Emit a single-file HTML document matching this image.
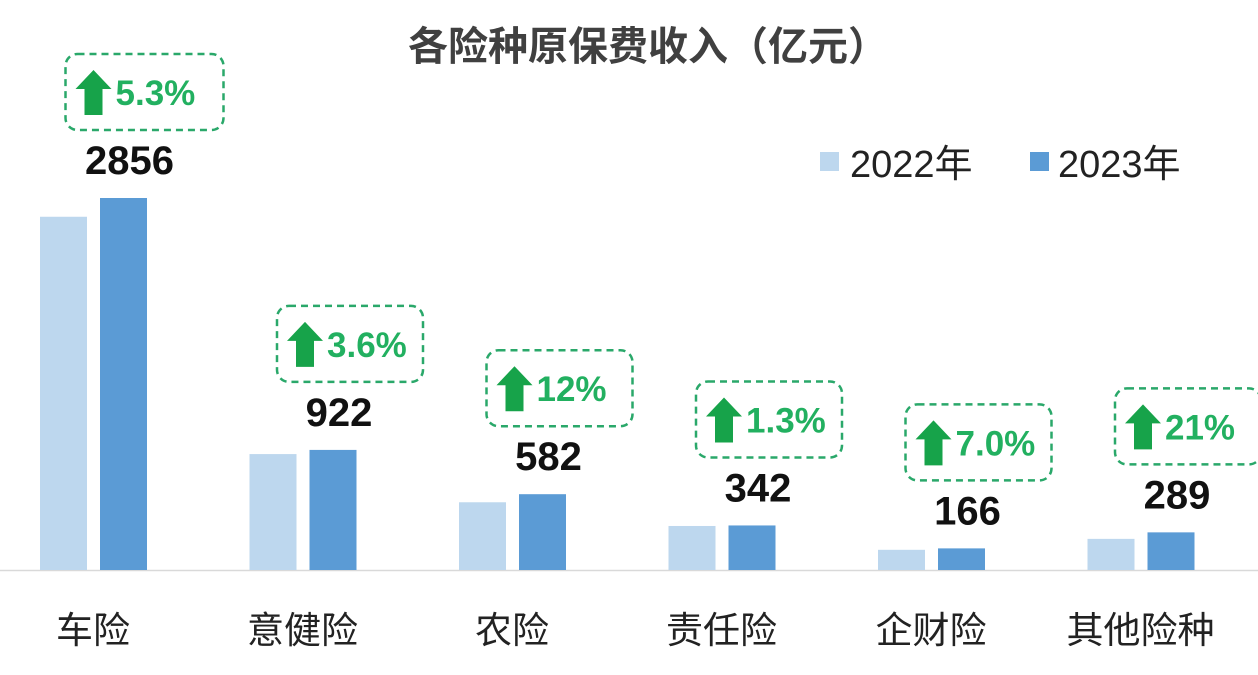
<!DOCTYPE html>
<html><head><meta charset="utf-8">
<style>
html,body{margin:0;padding:0;background:#fff;}
body{width:1258px;height:670px;overflow:hidden;font-family:"Liberation Sans","Noto Sans CJK SC",sans-serif;}
</style></head>
<body>
<svg id="chart" width="1258" height="670" xmlns="http://www.w3.org/2000/svg">
<text x="648" y="60" text-anchor="middle" font-size="40" font-weight="bold" fill="#404040" font-family="Liberation Sans, Noto Sans CJK SC, sans-serif">各险种原保费收入（亿元）</text>
<g>
<rect x="820" y="152" width="19" height="19" fill="#bdd7ee"/>
<text x="850" y="177" font-size="38" fill="#222">2022年</text>
<rect x="1030" y="152" width="19" height="19" fill="#5b9bd5"/>
<text x="1058" y="177" font-size="38" fill="#222">2023年</text>
</g>
<line x1="0" y1="570.5" x2="1258" y2="570.5" stroke="#d9d9d9" stroke-width="1.5"/>
<g id="marks"></g>
</svg>
<script>
const categories = ["车险","意健险","农险","责任险","企财险","其他险种"];
const values2022 = [2712, 890, 520, 338, 155, 239];
const values2023 = [2856, 922, 582, 342, 166, 289];
const growthLabels = ["5.3%","3.6%","12%","1.3%","7.0%","21%"];

const baseY = 570, scale = 372/2856;
const y = v => baseY - v*scale;
const groupX = i => 40 + i*209.5;
const barW = 47;
const g = document.getElementById('marks');
const NS = "http://www.w3.org/2000/svg";
function mk(tag, attrs){const e=document.createElementNS(NS,tag);for(const k in attrs)e.setAttribute(k,attrs[k]);g.appendChild(e);return e;}
categories.forEach((c,i)=>{
  const x0 = groupX(i);
  const b1 = mk('rect',{x:x0,y:y(values2022[i]),width:barW,height:values2022[i]*scale,fill:'#bdd7ee'});
  
  
  const b2 = mk('rect',{x:x0+60,y:y(values2023[i]),width:barW,height:values2023[i]*scale,fill:'#5b9bd5'});
  
  
  const lc = x0+60+barW/2 + 6;
  const top = y(values2023[i]);
  const vl = mk('text',{x:lc,y:top-24,'text-anchor':'middle','font-size':40,'font-weight':'bold',fill:'#111'});
  vl.textContent = values2023[i];
  
  
  const cl = mk('text',{x:x0+53,y:643,'text-anchor':'middle','font-size':37,fill:'#222'});
  cl.textContent = c;
  
  
  const bw = (i===0?158:146), bh = 76, bx = lc - 62 + (i===0?-2:0), by = top - 40 - 30 - bh + 2;
  const box = mk('rect',{x:bx,y:by,width:bw,height:bh,rx:12,fill:'none',stroke:'#2aa86a','stroke-width':2.5,'stroke-dasharray':'7 5'});
  
  
  const ax = bx+28, ay = by+16;
  const ar = mk('polygon',{points:`${ax},${ay} ${ax+18},${ay+19} ${ax+9},${ay+19} ${ax+9},${ay+45} ${ax-9},${ay+45} ${ax-9},${ay+19} ${ax-18},${ay+19}`,fill:'#17a34a'});
  
  
  const gt = mk('text',{x:bx+50,y:by+51,'text-anchor':'start','font-size':35,'font-weight':'bold',fill:'#22b060'});
  gt.textContent = growthLabels[i];
  
  
});
</script>
</body></html>
